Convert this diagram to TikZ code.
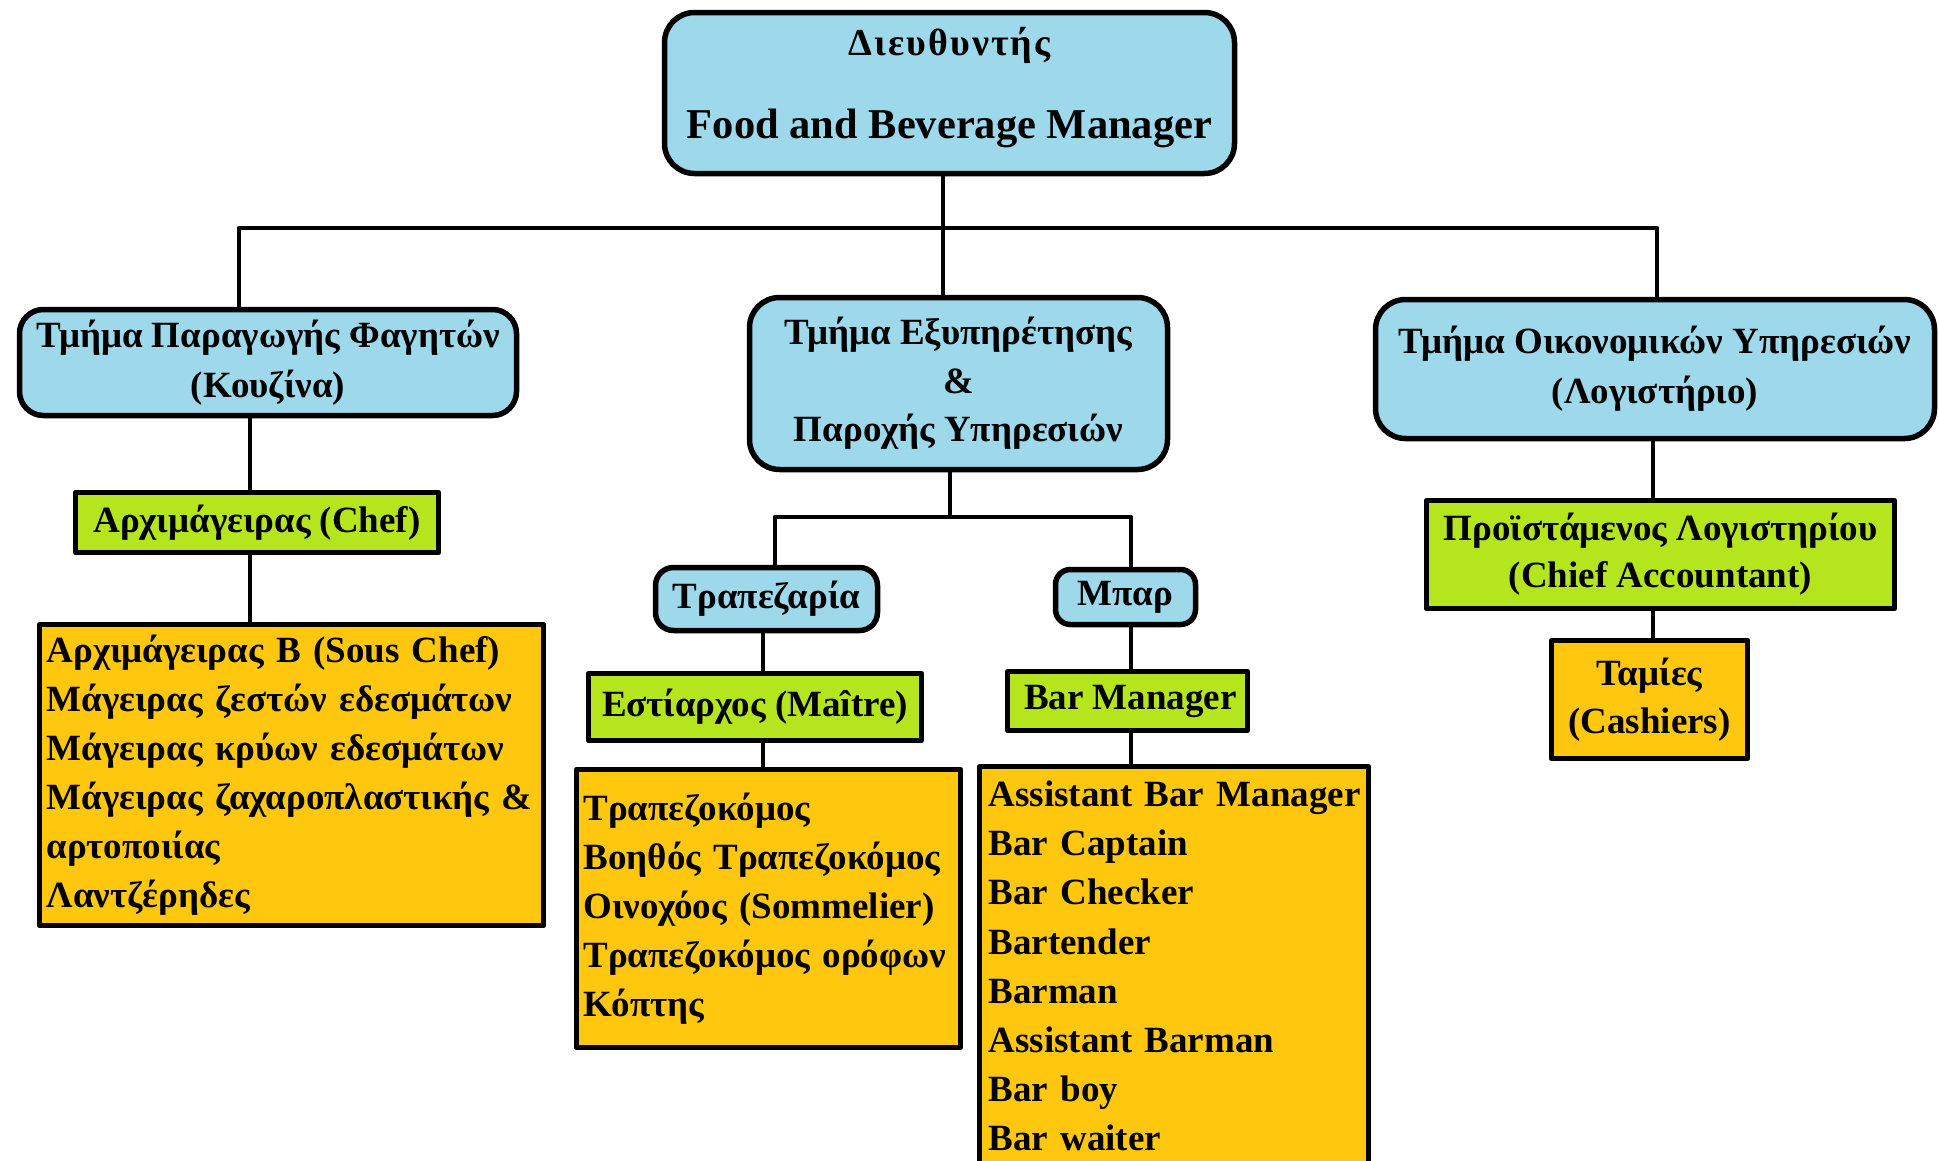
\documentclass[tikz,border=0pt]{standalone}
\usepackage{fontspec}
\setmainfont{Liberation Serif}
\newfontfamily\spacedserif{Liberation Serif}[LetterSpace=5.5]
\usetikzlibrary{calc}
\definecolor{bluebox}{RGB}{157,217,234}
\definecolor{greenbox}{RGB}{181,230,29}
\definecolor{goldbox}{RGB}{255,200,14}
\newcommand{\keepline}[1]{\mbox{#1}}
\begin{document}
\begin{tikzpicture}[x=1pt,y=-1pt,line join=round]
\useasboundingbox (0,0) rectangle (1939,1160);
\tikzset{
  basebox/.style={draw=black,line width=5.5pt,font=\bfseries\fontsize{37}{49}\selectfont,align=center,inner sep=0pt},
  dept/.style={basebox,fill=bluebox,rounded corners=30pt},
  role/.style={basebox,fill=greenbox},
  listbox/.style={basebox,fill=goldbox,align=left,inner xsep=7pt},
  conn/.style={line width=4.5pt},
}
% top
\node[dept,minimum width=570pt,minimum height=161pt,text depth=20pt,font=\bfseries\fontsize{42.5}{49}\selectfont] (top) at (949.5,93)
  {{\spacedserif\bfseries\fontsize{38}{49}\selectfont Διευθυντής}\\[34pt]Food and Beverage Manager};
% departments
\node[dept,rounded corners=24pt,minimum width=497pt,minimum height=106pt,font=\bfseries\fontsize{37}{50}\selectfont] (dL) at (268,362.5)
  {Τμήμα Παραγωγής Φαγητών\\(Κουζίνα)};
\node[dept,minimum width=418pt,minimum height=172pt,font=\bfseries\fontsize{37}{48.5}\selectfont] (dM) at (958.5,383.5)
  {Τμήμα Εξυπηρέτησης\\\&\\Παροχής Υπηρεσιών};
\node[dept,minimum width=559pt,minimum height=139pt,font=\bfseries\fontsize{37}{50}\selectfont] (dR) at (1655,369)
  {Τμήμα Οικονομικών Υπηρεσιών\\(Λογιστήριο)};
% kitchen
\node[role,minimum width=363pt,minimum height=60pt] (chef) at (257,522.5) {Αρχιμάγειρας (Chef)};
\node[listbox,text width=490pt,minimum height=301pt,font=\bfseries\fontsize{37}{49}\selectfont] (kit) at (291.5,775)
  {\keepline{Αρχιμάγειρας Β (Sous Chef)}\\\keepline{Μάγειρας ζεστών εδεσμάτων}\\\keepline{Μάγειρας κρύων εδεσμάτων}\\\keepline{Μάγειρας ζαχαροπλαστικής \&}\\αρτοποιίας\\Λαντζέρηδες};
% service
\node[dept,rounded corners=18pt,minimum width=222pt,minimum height=63pt] (tr) at (766.5,599) {Τραπεζαρία};
\node[dept,rounded corners=15pt,minimum width=140pt,minimum height=55pt] (mp) at (1125.5,597) {Μπαρ};
\node[role,minimum width=333pt,minimum height=67pt] (est) at (755,707) {Εστίαρχος (Maître)};
\node[role,minimum width=240pt,minimum height=59pt] (bm) at (1127.5,701) {\hspace*{6pt}Bar Manager};
\node[listbox,text width=370pt,minimum height=278pt] (wait) at (768.5,908.5)
  {\keepline{Τραπεζοκόμος}\\\keepline{Βοηθός Τραπεζοκόμος}\\\keepline{Οινοχόος (Sommelier)}\\\keepline{Τραπεζοκόμος ορόφων}\\Κόπτης};
\node[listbox,inner xsep=9pt,text width=371pt,minimum height=399pt,font=\bfseries\fontsize{37}{49.2}\selectfont] (bar) at (1174,966)
  {\keepline{Assistant Bar Manager}\\\keepline{Bar Captain}\\\keepline{Bar Checker}\\Bartender\\Barman\\\keepline{Assistant Barman}\\\keepline{Bar boy}\\\keepline{Bar waiter}};
% accounting
\node[role,minimum width=468pt,minimum height=108pt,font=\bfseries\fontsize{37}{47}\selectfont] (pr) at (1660.5,554.5)
  {Προϊστάμενος Λογιστηρίου\\(Chief Accountant)};
\node[listbox,align=center,minimum width=196pt,minimum height=118pt,font=\bfseries\fontsize{37}{48}\selectfont] (tm) at (1649.5,699.5)
  {Ταμίες\\(Cashiers)};
% connectors
\coordinate (hub) at (943,228);
\coordinate (hL) at (239,228);
\coordinate (hR) at (1657,228);
\draw[conn] (top.south -| hub) -- (hub |- dM.north);
\draw[conn] (hL |- dL.north) -- (hL) -- (hR) -- (hR |- dR.north);
\coordinate (cL) at (250,0);
\draw[conn] (dL.south -| cL) -- (chef.north -| cL);
\draw[conn] (chef.south -| cL) -- (kit.north -| cL);
\coordinate (mh) at (950,517);
\coordinate (mhL) at (775,517);
\coordinate (mhR) at (1131,517);
\draw[conn] (dM.south -| mh) -- (mh);
\draw[conn] (mhL |- tr.north) -- (mhL) -- (mhR) -- (mhR |- mp.north);
\coordinate (cT) at (763,0);
\draw[conn] (tr.south -| cT) -- (est.north -| cT);
\draw[conn] (est.south -| cT) -- (wait.north -| cT);
\coordinate (cB) at (1131,0);
\draw[conn] (mp.south -| cB) -- (bm.north -| cB);
\draw[conn] (bm.south -| cB) -- (bar.north -| cB);
\coordinate (cR) at (1653,0);
\draw[conn] (dR.south -| cR) -- (pr.north -| cR);
\draw[conn] (pr.south -| cR) -- (tm.north -| cR);
\end{tikzpicture}
\end{document}
